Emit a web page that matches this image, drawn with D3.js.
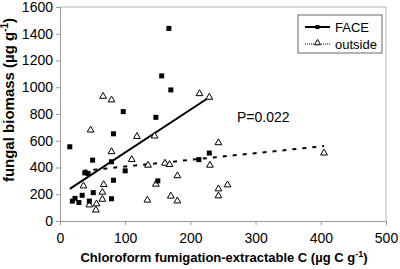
<!DOCTYPE html>
<html>
<head>
<meta charset="utf-8">
<script src="https://cdn.jsdelivr.net/npm/d3@7"></script>
<style>
  body { margin: 0; background: #fff; }
  svg { display: block; font-family: Arial, "Liberation Sans", sans-serif; }
</style>
</head>
<body>
<div id="chart"></div>
<script>
// FACE plots: extractable C vs fungal biomass
const faceX = [167, 156, 170, 97, 147, 82, 15, 50, 79, 38, 43, 100, 82, 150, 213, 229, 51, 34, 23, 19, 29, 45, 79];
const faceY = [1440, 1085, 980, 818, 775, 652, 555, 455, 443, 360, 355, 375, 305, 300, 459, 508, 212, 192, 169, 149, 138, 149, 166];

// plots outside the rings
const outsideX = [66, 79, 47, 118, 145, 214, 229, 243, 79, 110, 135, 161, 168, 230, 180, 147, 243, 257, 243, 134, 170, 180, 405, 36, 67, 65, 65, 45, 56, 55];
const outsideY = [932, 905, 680, 632, 635, 952, 925, 585, 518, 459, 417, 432, 422, 417, 338, 275, 240, 270, 188, 156, 186, 150, 508, 262, 272, 215, 162, 120, 128, 82];

// trend lines (end points)
const faceTrend = [[15, 240], [229, 925]];
const outsideTrend = [[36, 375], [405, 560]];

const xTicks = [0, 100, 200, 300, 400, 500];
const yTicks = [0, 200, 400, 600, 800, 1000, 1200, 1400, 1600];

const W = 400, H = 269;
const margin = { top: 7, right: 14, bottom: 48, left: 60 };

const svg = d3.select("#chart").append("svg")
    .attr("width", W)
    .attr("height", H);

const x = d3.scaleLinear().domain([0, 500]).range([margin.left, W - margin.right]);
const y = d3.scaleLinear().domain([0, 1600]).range([H - margin.bottom, margin.top]);

// plot frame (top and right)
svg.append("path")
    .attr("d", `M${x(0)},${y(1600)}H${x(500)}V${y(0)}`)
    .attr("fill", "none")
    .attr("stroke", "#b4b4b4")
    .attr("stroke-width", 1);

const xAxis = svg.append("g")
    .attr("transform", `translate(0,${y(0)})`)
    .call(d3.axisBottom(x).tickValues(xTicks).tickFormat(d3.format("d")).tickSize(4).tickPadding(8));

const yAxis = svg.append("g")
    .attr("transform", `translate(${x(0)},0)`)
    .call(d3.axisLeft(y).tickValues(yTicks).tickFormat(d3.format("d")).tickSize(4).tickPadding(3));

[xAxis, yAxis].forEach(g => {
  g.select(".domain").attr("stroke", "#9a9a9a");
  g.selectAll(".tick line").attr("stroke", "#9a9a9a");
  g.selectAll(".tick text")
    .attr("fill", "#000")
    .style("font-size", "14px")
    .style("font-family", "Arial, 'Liberation Sans', sans-serif");
});

// trend lines
const line = d3.line().x(d => x(d[0])).y(d => y(d[1]));

svg.append("path")
    .datum(faceTrend)
    .attr("d", line)
    .attr("stroke", "#000")
    .attr("stroke-width", 2)
    .attr("fill", "none");

svg.append("path")
    .datum(outsideTrend)
    .attr("d", line)
    .attr("stroke", "#000")
    .attr("stroke-width", 2)
    .attr("stroke-dasharray", "4,6")
    .attr("fill", "none");

// points
const tri = d3.symbol().type(d3.symbolTriangle).size(20);

svg.append("g").selectAll("path")
    .data(outsideX.map((v, i) => [v, outsideY[i]]))
    .enter()
    .append("path")
    .attr("d", tri)
    .attr("transform", d => `translate(${x(d[0])},${y(d[1])})`)
    .attr("fill", "#fff")
    .attr("stroke", "#000")
    .attr("stroke-width", 1);

svg.append("g").selectAll("rect")
    .data(faceX.map((v, i) => [v, faceY[i]]))
    .enter()
    .append("rect")
    .attr("x", d => x(d[0]) - 2.5)
    .attr("y", d => y(d[1]) - 2.5)
    .attr("width", 5)
    .attr("height", 5)
    .attr("fill", "#000");

// P value
svg.append("text")
    .attr("x", 237)
    .attr("y", 122)
    .style("font-size", "14px")
    .text("P=0.022");

// legend
const legend = svg.append("g");
legend.append("rect")
    .attr("x", 298).attr("y", 15)
    .attr("width", 84).attr("height", 38)
    .attr("fill", "#fff")
    .attr("stroke", "#666");

legend.append("line")
    .attr("x1", 305).attr("x2", 330).attr("y1", 27).attr("y2", 27)
    .attr("stroke", "#000").attr("stroke-width", 2);
legend.append("rect")
    .attr("x", 315.5).attr("y", 25).attr("width", 4).attr("height", 4)
    .attr("fill", "#000");

legend.append("line")
    .attr("x1", 305).attr("x2", 330).attr("y1", 44).attr("y2", 44)
    .attr("stroke", "#000").attr("stroke-width", 1)
    .attr("stroke-dasharray", "1,1");
legend.append("path")
    .attr("d", d3.symbol().type(d3.symbolTriangle).size(16))
    .attr("transform", "translate(317.5,43)")
    .attr("fill", "#fff")
    .attr("stroke", "#000");

legend.append("text").attr("x", 335).attr("y", 27).attr("dy", "0.35em")
    .style("font-size", "13px").text("FACE");
legend.append("text").attr("x", 335).attr("y", 44).attr("dy", "0.35em")
    .style("font-size", "13px").text("outside");

// axis titles
const xt = svg.append("text")
    .attr("x", (x(0) + x(500)) / 2 + 1)
    .attr("y", 262)
    .attr("text-anchor", "middle")
    .style("font-size", "13px")
    .style("font-weight", "bold")
    .text("Chloroform fumigation-extractable C (µg C g");
xt.append("tspan").attr("dy", -5).style("font-size", "9px").text("-1");
xt.append("tspan").attr("dy", 5).text(")");

const yt = svg.append("text")
    .attr("transform", "translate(14,100) rotate(-90)")
    .attr("text-anchor", "middle")
    .style("font-size", "15px")
    .style("font-weight", "bold")
    .text("fungal biomass (µg g");
yt.append("tspan").attr("dy", -6).style("font-size", "10px").text("-1");
yt.append("tspan").attr("dy", 6).text(")");
</script>
</body>
</html>
